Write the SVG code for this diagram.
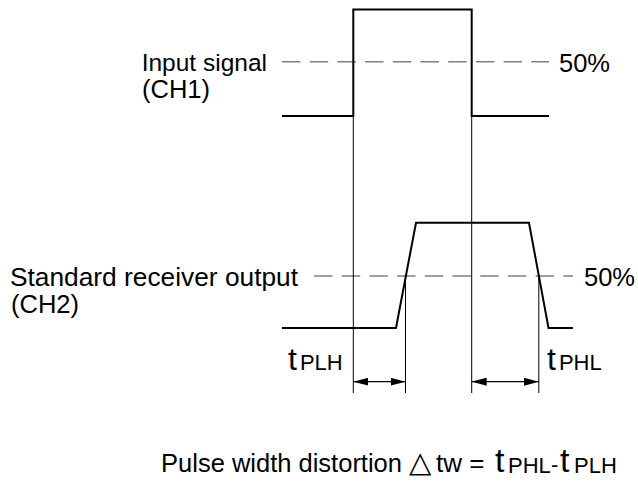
<svg xmlns="http://www.w3.org/2000/svg" width="638" height="481" viewBox="0 0 638 481">
<defs>
<style>
.t{font-family:"Liberation Sans",Arial,sans-serif;fill:#000}
.lbl{font-size:25.5px}
.wave{fill:none;stroke:#000;stroke-width:2}
.dash{fill:none;stroke:#808080;stroke-width:1.5;stroke-dasharray:18.5 9.2}
.ref{fill:none;stroke:#000;stroke-width:1}
.dim{fill:none;stroke:#000;stroke-width:1.2;marker-start:url(#ah);marker-end:url(#ah)}
</style>
<marker id="ah" viewBox="0 0 15 8" refX="15" refY="4" markerWidth="15" markerHeight="8" markerUnits="userSpaceOnUse" orient="auto-start-reverse">
<path d="M0,0 L15,4 L0,8 Z" fill="#000"/>
</marker>
</defs>
<rect width="638" height="481" fill="#fff"/>
<g id="connectors">
<line class="dash" x1="282" y1="61.7" x2="549" y2="61.7"/>
<line class="dash" x1="314" y1="276" x2="573" y2="276"/>
<line class="ref" x1="353.3" y1="116" x2="353.3" y2="393"/>
<line class="ref" x1="471.7" y1="116" x2="471.7" y2="393" stroke="#555"/>
<line class="ref" x1="405.5" y1="276" x2="405.5" y2="393"/>
<line class="ref" x1="538.8" y1="276" x2="538.8" y2="393"/>
<line class="dim" x1="353.3" y1="381.7" x2="405.5" y2="381.7"/>
<line class="dim" x1="471.7" y1="381.7" x2="538.8" y2="381.7"/>
</g>
<g id="input-signal">
<polyline class="wave" points="282,116 353.3,116 353.3,9.5 471.7,9.5 471.7,116 549,116"/>
<text class="t" x="267" y="71" text-anchor="end" font-size="24.5">Input signal</text>
<text class="t lbl" x="142" y="98">(CH1)</text>
<text class="t lbl" x="559" y="72">50%</text>
</g>
<g id="receiver-output">
<polyline class="wave" points="282,328 396,328 416,222.7 529,222.7 548.5,328 573,328"/>
<text class="t" x="298" y="286" text-anchor="end" font-size="26.3">Standard receiver output</text>
<text class="t lbl" x="11" y="313">(CH2)</text>
<text class="t lbl" x="584" y="286">50%</text>
</g>
<g id="tplh-label">
<text class="t" x="288" y="370" font-size="32">t<tspan font-size="22" dx="3">PLH</tspan></text>
</g>
<g id="tphl-label">
<text class="t" x="547" y="370" font-size="32">t<tspan font-size="22" dx="3">PHL</tspan></text>
</g>
<g id="formula">
<text class="t" font-size="25.5" y="472"><tspan x="402" text-anchor="end">Pulse width distortion</tspan></text>
<text class="t" font-size="29" y="472" x="409">△</text>
<text class="t" font-size="26" y="472" x="436">tw =</text>
<text class="t" font-size="34" y="472" x="495">t</text>
<text class="t" font-size="22" y="473" x="508">PHL</text>
<text class="t" font-size="22" y="472" x="551">-</text>
<text class="t" font-size="34" y="472" x="560">t</text>
<text class="t" font-size="22" y="473" x="574">PLH</text>
</g>
</svg>
